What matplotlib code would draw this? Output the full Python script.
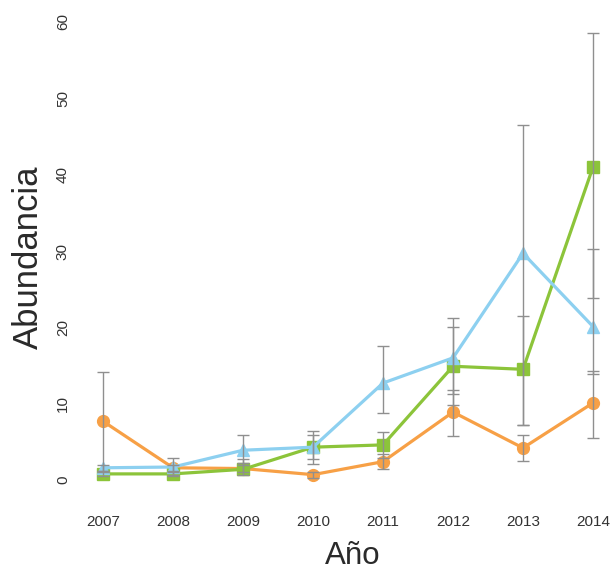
import matplotlib.pyplot as plt
import numpy as np

# ── Data ──────────────────────────────────────────────────────────────────────
years = [2007, 2008, 2009, 2010, 2011, 2012, 2013, 2014]

orange_mean = [7.7, 1.6, 1.5, 0.7, 2.4, 8.9, 4.2, 10.1]
orange_lo   = [1.2, 1.2, 1.0, 0.3, 1.4, 5.8, 2.5, 5.5]
orange_hi   = [14.2, 2.0, 2.7, 1.0, 3.4, 11.8, 5.9, 14.3]

green_mean = [0.8, 0.8, 1.4, 4.3, 4.6, 14.9, 14.5, 41.0]
green_lo   = [0.5, 0.5, 0.6, 2.7, 2.9, 9.8, 7.2, 23.9]
green_hi   = [1.1, 1.1, 2.2, 5.9, 6.3, 20.0, 21.5, 58.6]

blue_mean = [1.6, 1.7, 3.9, 4.3, 12.7, 16.0, 29.7, 20.1]
blue_lo   = [1.2, 0.6, 2.0, 2.1, 8.8, 11.3, 7.2, 13.9]
blue_hi   = [2.0, 2.9, 5.9, 6.4, 17.6, 21.2, 46.5, 30.3]

y_ticks = [0, 10, 20, 30, 40, 50, 60]

# ── Figure ────────────────────────────────────────────────────────────────────
W, H = 615, 571
fig = plt.figure(figsize=(W / 100, H / 100), dpi=100)
fig.patch.set_facecolor('white')

# axes placed in pixels: 2007 -> x=103, 2014 -> x=593 ; 0 -> y=480, 60 -> y=22
left_px, right_px, top_px, bot_px = 88, 610, 12, 497
ax = fig.add_axes([left_px / W, 1 - bot_px / H,
                   (right_px - left_px) / W, (bot_px - top_px) / H])
px_year = (593 - 103) / 7
px_unit = (480 - 22) / 60
ax.set_xlim(2007 - (103 - left_px) / px_year, 2014 + (right_px - 593) / px_year)
ax.set_ylim(-(bot_px - 480) / px_unit, 60 + (22 - top_px) / px_unit)

series = [
    (orange_mean, orange_lo, orange_hi, '#F7A046', 'o', 3),
    (green_mean, green_lo, green_hi, '#8CC43A', 's', 4),
    (blue_mean, blue_lo, blue_hi, '#8DD0F0', '^', 5),
]

for mean, lo, hi, col, mk, z in series:
    mean = np.array(mean)
    yerr = [mean - np.array(lo), np.array(hi) - mean]
    ax.plot(years, mean, color=col, lw=2.3, marker=mk, ms=8.5,
            mfc=col, mec=col, zorder=z)
    ax.errorbar(years, mean, yerr=yerr, fmt='none', ecolor='#8f8f8f',
                elinewidth=1.0, capsize=4.5, capthick=1.0, zorder=6)

for s in ax.spines.values():
    s.set_visible(False)

ax.set_xticks(years)
ax.set_xticklabels([str(y) for y in years], fontsize=11,
                   family='Liberation Sans', color='#333333')
ax.set_yticks(y_ticks)
ax.set_yticklabels([str(v) for v in y_ticks], fontsize=11, rotation=90,
                   va='center', family='Liberation Sans', color='#333333')
ax.tick_params(axis='x', length=0, pad=13)
ax.tick_params(axis='y', length=0, pad=13)

fig.text(28 / W, 1 - 257 / H, 'Abundancia', rotation=90, fontsize=25,
         family='Liberation Sans', color='#2a2a2a', ha='center', va='center')
fig.text(353 / W, 1 - 556 / H, 'Año', fontsize=22.5,
         family='Liberation Sans', color='#2a2a2a', ha='center', va='center')

fig.savefig('out.png', dpi=100, facecolor='white')
